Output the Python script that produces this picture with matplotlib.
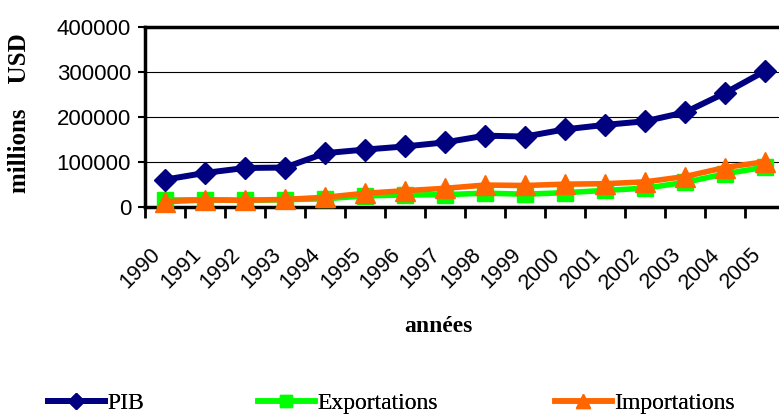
import numpy as np
import matplotlib
matplotlib.use("Agg")
import matplotlib.pyplot as plt

annees = ['1990', '1991', '1992', '1993', '1994', '1995', '1996', '1997',
          '1998', '1999', '2000', '2001', '2002', '2003', '2004', '2005']
pib = [60000, 75000, 86000, 87000, 119000, 127000, 134000, 143000,
       158000, 156000, 172000, 182000, 190000, 210000, 253000, 302000]
exportations = [14700, 15400, 14000, 15400, 17300, 24000, 25800, 26500,
                30000, 27600, 31000, 36000, 41000, 54000, 73000, 88000]
importations = [11000, 14700, 14000, 16000, 20700, 29600, 35400, 40700,
                48000, 47000, 50000, 51000, 55000, 67000, 87000, 100000]

serif = 'Liberation Serif'
sans = 'Liberation Sans'

fig = plt.figure(figsize=(7.79, 4.16), dpi=100)
ax = fig.add_axes([145 / 779, 1 - 206.6 / 416, 640 / 779, 179.6 / 416])

x = np.arange(len(annees))
l1, = ax.plot(x, pib, color='#000080', lw=4.3, marker='D', ms=11.5, clip_on=False, zorder=5)
l2, = ax.plot(x, exportations, color='#00FF00', lw=4, marker='s', ms=11.5, clip_on=False, zorder=3)
l3, = ax.plot(x, importations, color='#FF6600', lw=4, marker='^', ms=14, clip_on=False, zorder=4)

ax.set_xlim(-0.5, 15.5)
ax.set_ylim(0, 400000)
ax.set_yticks([0, 100000, 200000, 300000, 400000])
ax.set_yticklabels(['0', '100000', '200000', '300000', '400000'],
                   fontfamily=sans, fontsize=16)
ax.tick_params(axis='y', direction='out', length=5, width=1.5, pad=5)

ax.set_xticks(x)
ax.set_xticklabels(annees, rotation=45, ha='right', va='top',
                   fontfamily=sans, fontsize=15.5)
ax.tick_params(axis='x', which='major', length=0, pad=27)
ax.set_xticks(np.arange(-0.5, 16, 1), minor=True)
ax.tick_params(axis='x', which='minor', direction='out', length=8, width=2)

ax.grid(axis='y', color='black', lw=0.8)
ax.set_axisbelow(True)
for s in ['left', 'bottom', 'top']:
    ax.spines[s].set_linewidth(2.5)
ax.spines['right'].set_visible(False)

ax.set_ylabel('millions    USD', fontfamily=serif, fontweight='bold', fontsize=18)
ax.yaxis.set_label_coords(-0.178, 0.518)
ax.set_xlabel('années', fontfamily=serif, fontweight='bold', fontsize=17)
ax.xaxis.set_label_coords(0.458, -0.61)

# one legend box per entry, placed like the original
for h, lab, xpos in [(l1, 'PIB', 48), (l2, 'Exportations', 258), (l3, 'Importations', 555)]:
    lg = fig.legend([h], [lab], loc='center left',
                    bbox_to_anchor=(xpos / 779, 1 - 403 / 416), frameon=False,
                    prop={'family': serif, 'size': 17}, handlelength=2.4,
                    handletextpad=0.1, borderpad=0, borderaxespad=0,
                    markerscale=0.7)
    fig.add_artist(lg)

fig.savefig('out.png', dpi=100)
